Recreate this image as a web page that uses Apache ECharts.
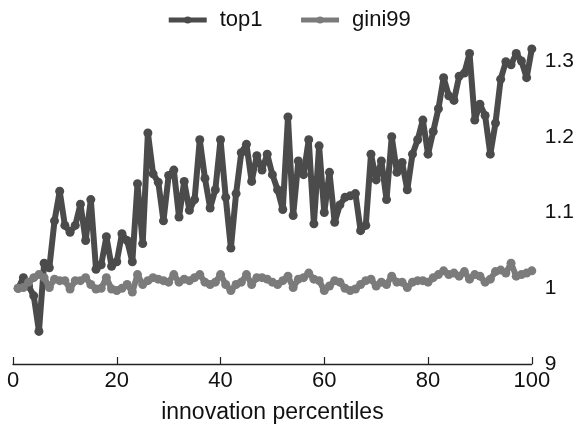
<!DOCTYPE html>
<html>
<head>
<meta charset="utf-8">
<script src="https://cdn.jsdelivr.net/npm/echarts@6/dist/echarts.min.js"></script>
<style>
  html, body { margin: 0; padding: 0; background: #fff; }
  #chart { width: 577px; height: 429px; }
</style>
</head>
<body>
<div id="chart"></div>
<script>
// Innovation percentiles 1..100
const percentiles = [];
for (let p = 1; p <= 100; p++) percentiles.push(p);

// Ratio of top 1% income share (top1) and Gini among bottom 99% (gini99)
const top1 = [
  1.000, 1.014, 1.003, 0.990, 0.943, 1.033, 1.027, 1.089, 1.128, 1.083,
  1.074, 1.083, 1.111, 1.063, 1.117, 1.025, 1.031, 1.068, 1.029, 1.035,
  1.072, 1.063, 1.035, 1.138, 1.059, 1.205, 1.151, 1.140, 1.089, 1.149,
  1.156, 1.094, 1.141, 1.103, 1.117, 1.196, 1.145, 1.106, 1.130, 1.196,
  1.120, 1.053, 1.125, 1.179, 1.190, 1.141, 1.175, 1.156, 1.177, 1.150,
  1.130, 1.104, 1.226, 1.096, 1.168, 1.150, 1.196, 1.085, 1.188, 1.100,
  1.153, 1.087, 1.110, 1.120, 1.122, 1.125, 1.076, 1.083, 1.177, 1.143,
  1.168, 1.117, 1.200, 1.153, 1.166, 1.130, 1.177, 1.196, 1.222, 1.177,
  1.207, 1.237, 1.278, 1.254, 1.248, 1.280, 1.284, 1.310, 1.222, 1.243,
  1.228, 1.177, 1.218, 1.276, 1.299, 1.295, 1.310, 1.300, 1.278, 1.316
];
const gini99 = [
  1.000, 1.001, 1.008, 1.014, 1.018, 1.014, 1.001, 1.012, 1.010, 1.010,
  0.999, 1.010, 1.010, 1.014, 1.005, 0.999, 1.000, 1.014, 0.999, 0.997,
  1.000, 1.005, 0.995, 1.018, 1.005, 1.010, 1.014, 1.012, 1.010, 1.008,
  1.018, 1.008, 1.012, 1.010, 1.014, 1.018, 1.008, 1.005, 1.008, 1.018,
  1.005, 0.997, 1.005, 1.008, 1.018, 1.005, 1.014, 1.014, 1.012, 1.008,
  1.005, 1.010, 1.016, 1.001, 1.012, 1.014, 1.020, 1.012, 1.010, 0.997,
  1.003, 1.010, 1.008, 1.000, 0.997, 0.999, 1.005, 1.010, 1.012, 1.003,
  1.008, 1.005, 1.016, 1.008, 1.008, 1.001, 1.008, 1.010, 1.010, 1.008,
  1.014, 1.018, 1.023, 1.018, 1.020, 1.016, 1.022, 1.012, 1.018, 1.016,
  1.008, 1.012, 1.022, 1.024, 1.020, 1.033, 1.016, 1.018, 1.020, 1.023
];

const xTicks = [0, 20, 40, 60, 80, 100];
const yLabels = { '0.9': '9', '1': '1', '1.1': '1.1', '1.2': '1.2', '1.3': '1.3' };

const FONT = '"Liberation Sans", Arial, sans-serif';
const TOP1_COLOR = '#4b4b4b';
const GINI_COLOR = '#7b7b7b';

const pairs = (ys) => percentiles.map((p, i) => [p, ys[i]]);

const chart = echarts.init(document.getElementById('chart'), null, { renderer: 'canvas' });
chart.setOption({
  animation: false,
  backgroundColor: '#ffffff',
  textStyle: { fontFamily: FONT },
  legend: {
    top: 4,
    left: 'center',
    itemWidth: 38,
    itemHeight: 9,
    itemGap: 36,
    lineStyle: { width: 5 },
    textStyle: { fontFamily: FONT, fontSize: 22, color: '#111', padding: [0, 0, 0, 8] },
    data: ['top1', 'gini99']
  },
  grid: { left: 13, right: 45, top: 61, bottom: 56, containLabel: false },
  xAxis: {
    type: 'value',
    min: xTicks[0],
    max: xTicks[xTicks.length - 1],
    interval: 20,
    name: 'innovation percentiles',
    nameLocation: 'middle',
    nameGap: 37,
    nameTextStyle: { fontFamily: FONT, fontSize: 23, color: '#111' },
    axisLine: { show: true, lineStyle: { color: '#222', width: 1.3 } },
    axisTick: { show: true, inside: true, length: 7, lineStyle: { color: '#222', width: 1.2 } },
    axisLabel: { fontFamily: FONT, fontSize: 22, color: '#111', margin: 6 },
    splitLine: { show: false }
  },
  yAxis: {
    type: 'value',
    position: 'right',
    min: 0.9,
    max: 1.3,
    interval: 0.1,
    axisLine: { show: false },
    axisTick: { show: false },
    splitLine: { show: false },
    axisLabel: {
      fontFamily: FONT, fontSize: 21, color: '#111', margin: 13,
      formatter: (v) => yLabels[String(Math.round(v * 10) / 10)] || ''
    }
  },
  series: [
    {
      name: 'top1',
      type: 'line',
      data: pairs(top1),
      clip: false,
      symbol: 'circle',
      symbolSize: 9,
      showAllSymbol: true,
      color: TOP1_COLOR,
      lineStyle: { width: 6, color: TOP1_COLOR },
      itemStyle: { color: TOP1_COLOR }
    },
    {
      name: 'gini99',
      type: 'line',
      data: pairs(gini99),
      clip: false,
      symbol: 'circle',
      symbolSize: 9,
      showAllSymbol: true,
      color: GINI_COLOR,
      lineStyle: { width: 6, color: GINI_COLOR },
      itemStyle: { color: GINI_COLOR }
    }
  ]
});
</script>
</body>
</html>
